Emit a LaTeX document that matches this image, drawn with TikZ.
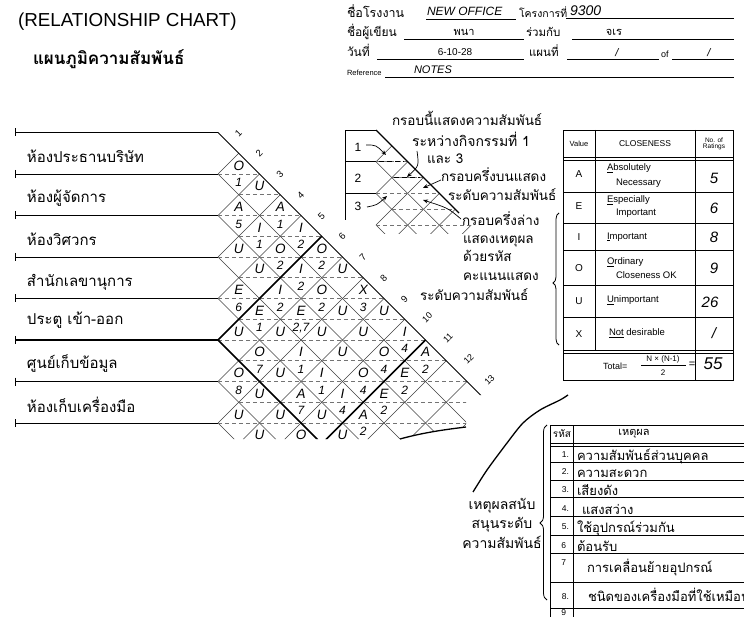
\documentclass[tikz,border=0pt]{standalone}
\usepackage{fontspec}
\setmainfont{Liberation Sans}
\newfontfamily\thai[Script=Thai]{Loma}
\usetikzlibrary{arrows.meta,decorations.pathreplacing}
\newcommand\rcell[4]{%
  \pgfmathsetmacro\rcX{218+(#2-#1)*20.75}%
  \pgfmathsetmacro\rcY{132.5+(#1+#2-1)*20.75}%
  \node[hw=13.5] (u#1x#2) at (\rcX,\rcY-8.5) {#3};%
  \node[hw=12] (l#1x#2) at (\rcX,\rcY+8.5) {#4};%
}
\begin{document}
\begin{tikzpicture}[x=1pt,y=-1pt,
  every node/.style={inner sep=0pt,outer sep=0pt},
  th/.style={font=\thai\fontsize{#1}{#1}\selectfont},
  en/.style={font=\fontsize{#1}{#1}\selectfont},
  hw/.style={font=\itshape\fontsize{#1}{#1}\selectfont},
  rowline/.style={line width=0.8pt},
  gridline/.style={line width=0.55pt,black!75},
  dashline/.style={line width=0.55pt,black!55,dash pattern=on 4pt off 3pt},
  boldline/.style={line width=1.5pt},
  tabline/.style={line width=0.9pt},
  thinline/.style={line width=0.6pt},
  arr/.style={-{Stealth[length=5pt,width=4pt]},line width=0.7pt},
]
\useasboundingbox (0,0) rectangle (744,617);

% ---------- titles ----------
\node[en=18.8,anchor=west] (title) at (18,22) {(RELATIONSHIP CHART)};
\node[th=17,anchor=west] (thtitle) at (33,59) {\textbf{แผนภูมิความสัมพันธ์}};

% ---------- header form ----------
\node[th=12.5,anchor=base west] (hA) at (347,18) {ชื่อโรงงาน};
\node[hw=12,anchor=base west] (hB) at (427,16) {NEW OFFICE};
\draw[thinline] (426,19.5) -- (516,19.5);
\node[th=10.5,anchor=base west] (hC) at (519,18) {โครงการที่};
\node[hw=14,anchor=base west] (hD) at (570,16) {9300};
\draw[thinline] (566,18.5) -- (734,18.5);
\node[th=12,anchor=base west] (hE) at (347,37) {ชื่อผู้เขียน};
\draw[thinline] (404,39) -- (524,39);
\node[th=11,anchor=base] (hF) at (464,36) {พนา};
\node[th=11.5,anchor=base west] (hG) at (526,37) {ร่วมกับ};
\draw[thinline] (572,39) -- (734,39);
\node[th=11,anchor=base] (hH) at (614,36) {จเร};
\node[th=12,anchor=base west] (hI) at (347,57) {วันที่};
\draw[thinline] (377,59) -- (524,59);
\node[en=10,anchor=base] (hJ) at (455,56) {6-10-28};
\node[th=11.5,anchor=base west] (hK) at (529,57) {แผนที่};
\draw[thinline] (567,59) -- (659,59);
\node[hw=11,anchor=base] (hL) at (617,57) {/};
\node[en=9,anchor=base west] (hM) at (661,58) {of};
\draw[thinline] (672,59) -- (734,59);
\node[hw=11,anchor=base] (hN) at (709,57) {/};
\node[en=7.5,anchor=base west] (hO) at (347,76) {Reference};
\draw[thinline] (385,77.5) -- (734,77.5);
\node[hw=11,anchor=base west] (hP) at (414,74) {NOTES};

% ---------- row labels and row lines ----------
\foreach \k in {0,...,7}{
  \draw[rowline] (15,{132.5+\k*41.5}) -- (218,{132.5+\k*41.5});
  \draw[rowline] (15,{128.5+\k*41.5}) -- (15,{136.5+\k*41.5});
}
\draw[boldline] (15,340) -- (218,340);
\node[th=15,anchor=base west] (r1) at (27,163) {ห้องประธานบริษัท};
\node[th=15,anchor=base west] (r2) at (27,203) {ห้องผู้จัดการ};
\node[th=15,anchor=base west] (r3) at (27,246) {ห้องวิศวกร};
\node[th=15,anchor=base west] (r4) at (27,287) {สำนักเลขานุการ};
\node[th=15,anchor=base west] (r5) at (27,325) {ประตู เข้า-ออก};
\node[th=15,anchor=base west] (r6) at (27,369) {ศูนย์เก็บข้อมูล};
\node[th=15,anchor=base west] (r7) at (27,412) {ห้องเก็บเครื่องมือ};

% ---------- diamond grid ----------
\begin{scope}
\clip (0,0) -- (744,0) -- (744,395) -- (466,395) -- (466,427)
  .. controls (450,429) and (425,432) .. (400,439) -- (0,439) -- cycle;
\foreach \k in {1,...,14}
  \draw[gridline] ({218+\k*20.75},{132.5+\k*20.75}) -- (218,{132.5+\k*41.5});
\foreach \k in {1,...,8}
  \draw[gridline] (218,{132.5+\k*41.5}) -- ({218+260},{132.5+\k*41.5+260});
\foreach \m in {2,...,16}{
  \pgfmathsetmacro\xl{218+mod(\m,2)*20.75}
  \draw[dashline] (\xl,{132.5+\m*20.75}) -- ({218+\m*20.75},{132.5+\m*20.75});
}
\draw[line width=0.9pt] (218,132.5) -- ({218+14*20.75},{132.5+14*20.75});
\draw[boldline] ({218+5*20.75},{132.5+5*20.75}) -- (218,340) -- (378,500);
\draw[boldline] ({218+10*20.75},{132.5+10*20.75}) -- ({218+10*20.75-160},{132.5+10*20.75+160});
\rcell{1}{2}{O}{1}
\rcell{1}{3}{U}{}
\rcell{1}{4}{A}{1}
\rcell{1}{5}{I}{2}
\rcell{1}{6}{O}{2}
\rcell{1}{7}{U}{}
\rcell{1}{8}{X}{3}
\rcell{1}{9}{U}{}
\rcell{1}{10}{I}{4}
\rcell{1}{11}{A}{2}
\rcell{2}{3}{A}{5}
\rcell{2}{4}{I}{1}
\rcell{2}{5}{O}{2}
\rcell{2}{6}{I}{2}
\rcell{2}{7}{O}{2}
\rcell{2}{8}{U}{}
\rcell{2}{9}{U}{}
\rcell{2}{10}{O}{4}
\rcell{2}{11}{E}{2}
\rcell{3}{4}{U}{}
\rcell{3}{5}{U}{}
\rcell{3}{6}{I}{2}
\rcell{3}{7}{E}{2,7}
\rcell{3}{8}{U}{}
\rcell{3}{9}{U}{}
\rcell{3}{10}{O}{4}
\rcell{3}{11}{E}{2}
\rcell{4}{5}{E}{6}
\rcell{4}{6}{E}{1}
\rcell{4}{7}{U}{}
\rcell{4}{8}{I}{1}
\rcell{4}{9}{I}{1}
\rcell{4}{10}{I}{4}
\rcell{4}{11}{A}{2}
\rcell{5}{6}{U}{}
\rcell{5}{7}{O}{7}
\rcell{5}{8}{U}{}
\rcell{5}{9}{A}{7}
\rcell{5}{10}{U}{}
\rcell{5}{11}{U}{}
\rcell{6}{7}{O}{8}
\rcell{6}{8}{U}{}
\rcell{6}{9}{U}{}
\rcell{6}{10}{O}{}
\rcell{7}{8}{U}{}
\rcell{7}{9}{U}{}
\end{scope}
\draw[line width=1.3pt] (400,439) .. controls (425,432) and (450,429) .. (466,427);

% column numbers along the diagonal
\foreach \k in {1,...,9}
  \node[en=9.5,rotate=45] (n\k) at ({218+(\k-0.5)*20.75+10},{132.5+(\k-0.5)*20.75-10}) {\k};
\foreach \k in {10,...,13}
  \node[en=9,rotate=45] (n\k) at ({218+(\k-0.5)*20.75+12},{132.5+(\k-0.5)*20.75-12}) {\k};

% ---------- mini explanatory chart ----------
\draw[rowline] (345,220) -- (345,130) -- (376,130);
\draw[rowline] (345,161.7) -- (376,161.7);
\draw[rowline] (345,193.4) -- (376,193.4);
\node[en=12] (m1) at (358,147) {1};
\node[en=12] (m2) at (358,178) {2};
\node[en=12] (m3) at (358,206) {3};
\begin{scope}
\clip (376,130) -- (480,234) -- (368,234) -- (368,130) -- cycle;
\foreach \k in {1,...,6}
  \draw[gridline] ({376+\k*15.85},{130+\k*15.85}) -- (376,{130+\k*31.7});
\foreach \k in {1,...,3}
  \draw[gridline] (376,{130+\k*31.7}) -- ({376+110},{130+\k*31.7+110});
\foreach \m in {2,...,6}{
  \pgfmathsetmacro\xl{376+mod(\m,2)*15.85}
  \draw[dashline] (\xl,{130+\m*15.85}) -- ({376+\m*15.85},{130+\m*15.85});
}
\end{scope}
\draw[line width=1.6pt,dash pattern=on 5pt off 3pt] (379,161.7) -- (404,161.7);
\draw[line width=1.6pt,dash pattern=on 5pt off 3pt] (394,177.5) -- (420,177.5);
\draw[line width=1.3pt] (376,130) -- (459,213);
\draw[arr] (366,145) .. controls (376,145) .. (386,155);
\draw[arr] (367,207) .. controls (377,205) .. (387,196);
\draw[arr] (417,151) .. controls (419,166) .. (407,177);
\draw[arr] (441,180) -- (423,188);
\draw[arr] (461,219) .. controls (448,208) .. (423,200);

\node[th=13.5,anchor=base west] (a1) at (392,126) {กรอบนี้แสดงความสัมพันธ์};
\node[th=14,anchor=base west] (a2) at (412,147) {ระหว่างกิจกรรมที่ 1};
\node[th=13.5,anchor=base west] (a3) at (427,164) {และ 3};
\node[th=13.5,anchor=base west] (a4) at (441,182) {กรอบครึ่งบนแสดง};
\node[th=13.5,anchor=base west] (a5) at (448,201) {ระดับความสัมพันธ์};
\node[th=13.5,anchor=base west] (a6) at (462,226) {กรอบครึ่งล่าง};
\node[th=13.5,anchor=base west] (a7) at (463,244) {แสดงเหตุผล};
\node[th=13.5,anchor=base west] (a8) at (463,262) {ด้วยรหัส};
\node[th=13.5,anchor=base west] (a9) at (463,281) {คะแนนแสดง};
\node[th=13.5,anchor=base west] (a10) at (420,301) {ระดับความสัมพันธ์};

% ---------- closeness table ----------
\draw[tabline] (563,130) rectangle (733,380);
\draw[tabline] (595,130) -- (595,350);
\draw[tabline] (695,130) -- (695,380);
\draw[tabline] (563,157) -- (733,157) (563,160) -- (733,160);
\foreach \yy in {192,223,250,285,317}
  \draw[tabline] (563,\yy) -- (733,\yy);
\draw[tabline] (563,350) -- (733,350) (563,353) -- (733,353);
\node[en=7.5] (v0) at (579,144) {Value};
\node[en=8.5] (v1) at (645,144) {CLOSENESS};
\node[en=6.5,align=center] (v2) at (714,144) {No. of\\[-1pt]Ratings};
\node[en=10] (vA) at (579,174) {A};
\node[en=10] (vE) at (579,206) {E};
\node[en=10] (vI) at (579,237) {I};
\node[en=10] (vO) at (579,268) {O};
\node[en=10] (vU) at (579,301) {U};
\node[en=10] (vX) at (579,334) {X};
\node[en=9.5,anchor=west] (cA1) at (607,168) {\underline{A}bsolutely};
\node[en=9.5,anchor=west] (cA2) at (616,183) {Necessary};
\node[en=9.5,anchor=west] (cE1) at (607,200) {\underline{E}specially};
\node[en=9.5,anchor=west] (cE2) at (616,213) {Important};
\node[en=9.5,anchor=west] (cI) at (607,237) {\underline{I}mportant};
\node[en=9.5,anchor=west] (cO1) at (607,262) {\underline{O}rdinary};
\node[en=9.5,anchor=west] (cO2) at (616,275) {Closeness OK};
\node[en=9.5,anchor=west] (cU) at (607,300) {\underline{U}nimportant};
\node[en=9.5,anchor=west] (cX) at (609,333) {\underline{Not} desirable};
\node[hw=15] (nA) at (714,178) {5};
\node[hw=15] (nE) at (714,208) {6};
\node[hw=15] (nI) at (714,237) {8};
\node[hw=15] (nO) at (714,268) {9};
\node[hw=15] (nU) at (710,302) {26};
\node[hw=15] (nX) at (714,333) {/};
\node[en=9,anchor=west] (tot) at (603,366) {Total=};
\node[en=8] (tnum) at (663,359) {N × (N-1)};
\draw[thinline] (641,365) -- (686,365);
\node[en=8] (tden) at (663,373) {2};
\node[en=11] (teq) at (692,365) {=};
\node[hw=17] (t55) at (713,364) {55};
\draw[decorate,decoration={brace,amplitude=6pt,aspect=0.47},line width=0.8pt] (559,345) -- (559,213);

% ---------- reasons table ----------
\draw[tabline] (550,425) -- (744,425);
\draw[tabline] (550,425) -- (550,617);
\draw[tabline] (573,425) -- (573,617);
\draw[tabline] (550,443) -- (744,443) (550,446) -- (744,446);
\foreach \yy in {462,480,497,516,535,553,582,608}
  \draw[thinline] (550,\yy) -- (744,\yy);
\node[th=10] (rh1) at (562,434) {รหัส};
\node[th=11] (rh2) at (634,434) {เหตุผล};
\node[en=8.5,anchor=east] (q1) at (569,455) {1.};
\node[en=8.5,anchor=east] (q2) at (569,472) {2.};
\node[en=8.5,anchor=east] (q3) at (569,490) {3.};
\node[en=8.5,anchor=east] (q4) at (569,509) {4.};
\node[en=8.5,anchor=east] (q5) at (569,527) {5.};
\node[en=8.5,anchor=east] (q6) at (566,546) {6};
\node[en=8.5,anchor=east] (q7) at (566,563) {7};
\node[en=8.5,anchor=east] (q8) at (569,597) {8.};
\node[en=8.5,anchor=east] (q9) at (566,613) {9};
\node[th=13,anchor=base west] (w1) at (577,460) {ความสัมพันธ์ส่วนบุคคล};
\node[th=13,anchor=base west] (w2) at (577,477) {ความสะดวก};
\node[th=13,anchor=base west] (w3) at (577,495) {เสียงดัง};
\node[th=13,anchor=base west] (w4) at (582,514) {แสงสว่าง};
\node[th=13,anchor=base west] (w5) at (577,532) {ใช้อุปกรณ์ร่วมกัน};
\node[th=13,anchor=base west] (w6) at (577,551) {ต้อนรับ};
\node[th=13,anchor=base west] (w7) at (587,572) {การเคลื่อนย้ายอุปกรณ์};
\node[th=13,anchor=base west] (w8) at (588,601) {ชนิดของเครื่องมือที่ใช้เหมือน};
\draw[decorate,decoration={brace,amplitude=7pt,aspect=0.44},line width=0.8pt] (547,600) -- (547,425);
\node[font=\thai\fontsize{14}{19.5}\selectfont,align=center] (bt) at (502,523) {เหตุผลสนับ\\สนุนระดับ\\ความสัมพันธ์};
\draw[line width=1.3pt] plot[smooth] coordinates {(473,492) (487,470) (507,443) (523,423) (540,410) (560,400) (568,395)};
\end{tikzpicture}
\end{document}
